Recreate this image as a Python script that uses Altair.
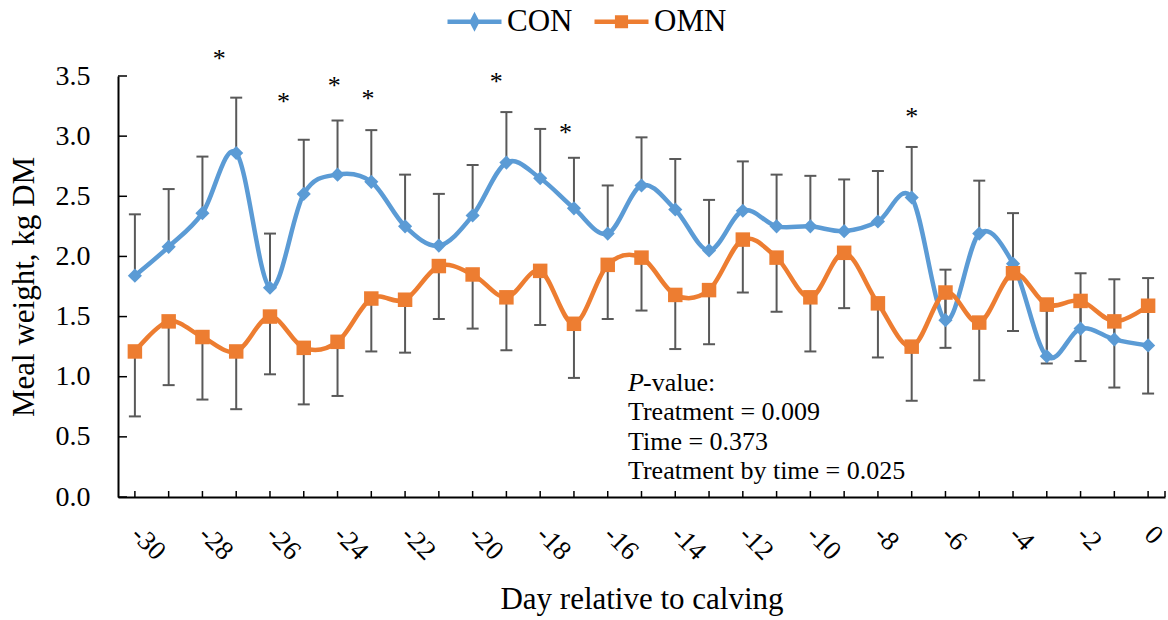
import altair as alt
import pandas as pd

# ---------------- data ----------------
days = list(range(-30, 1))
con_mean = [1.84, 2.08, 2.36, 2.86, 1.74, 2.52, 2.68, 2.62, 2.25, 2.09, 2.34,
            2.78, 2.65, 2.40, 2.19, 2.59, 2.39, 2.05, 2.38, 2.25, 2.25, 2.21,
            2.29, 2.49, 1.47, 2.19, 1.94, 1.17, 1.40, 1.31, 1.26]
con_upper = [2.35, 2.56, 2.83, 3.32, 2.19, 2.97, 3.13, 3.05, 2.68, 2.52, 2.76,
             3.20, 3.06, 2.82, 2.59, 2.99, 2.81, 2.47, 2.79, 2.68, 2.67, 2.64,
             2.71, 2.91, 1.89, 2.63, 2.36, 1.55, 1.86, 1.81, 1.82]
omn_mean = [1.21, 1.46, 1.33, 1.21, 1.50, 1.24, 1.29, 1.65, 1.64, 1.92, 1.85,
            1.66, 1.88, 1.44, 1.93, 1.99, 1.68, 1.72, 2.14, 1.99, 1.66, 2.03,
            1.61, 1.25, 1.70, 1.45, 1.86, 1.60, 1.63, 1.46, 1.59]
omn_lower = [0.67, 0.93, 0.81, 0.73, 1.02, 0.77, 0.84, 1.21, 1.20, 1.48, 1.40,
             1.22, 1.43, 0.99, 1.48, 1.55, 1.23, 1.27, 1.70, 1.54, 1.21, 1.57,
             1.16, 0.80, 1.24, 0.97, 1.38, 1.11, 1.13, 0.91, 0.86]
series_names = ["CON", "OMN"]
series_colors = ["#5B9BD5", "#ED7D31"]

star_days = [-27.5, -25.6, -24.1, -23.1, -19.3, -17.25, -7.0]
star_vals = [3.69, 3.33, 3.47, 3.36, 3.50, 3.08, 3.21]

y_ticks = [0.0, 0.5, 1.0, 1.5, 2.0, 2.5, 3.0, 3.5]
x_label_days = list(range(-30, 1, 2))
x_tick_days = days + [0.5]

pvalue_head = ["P", "-value:"]
pvalue_lines = ["Treatment = 0.009", "Time = 0.373", "Treatment by time = 0.025"]
pvalue_day = -15.4
pvalue_head_val = 0.885
pvalue_lines_val = 0.64

# ---------------- tables ----------------
con_df = pd.DataFrame({"day": days, "val": con_mean, "bound": con_upper, "series": "CON"})
omn_df = pd.DataFrame({"day": days, "val": omn_mean, "bound": omn_lower, "series": "OMN"})
all_df = pd.concat([con_df, omn_df], ignore_index=True)
star_df = pd.DataFrame({"day": star_days, "val": star_vals, "t": "*"})
ytick_df = pd.DataFrame({"val": y_ticks})
xtick_df = pd.DataFrame({"day": x_tick_days})
head_df = pd.DataFrame({"day": [pvalue_day], "val": [pvalue_head_val],
                        "a": [pvalue_head[0]], "b": [pvalue_head[1]]})
lines_df = pd.DataFrame({"day": [pvalue_day], "val": [pvalue_lines_val],
                         "t": ["\n".join(pvalue_lines)]})

FONT = "Liberation Serif"
BLUE, ORANGE = series_colors
GREY = "#595959"

xs = alt.Scale(domain=[-30.5, 0.5], nice=False, zero=False)
ys = alt.Scale(domain=[0, 3.5], nice=False, zero=True)

xaxis = alt.Axis(values=x_label_days, labelExpr="'' + datum.value", labelAngle=45,
                 labelAlign="left", labelBaseline="middle", labelPadding=33,
                 labelFont=FONT, labelFontSize=27, labelColor="black",
                 labelOverlap=False, labelFlush=False, labelBound=False,
                 ticks=False, tickSize=0, grid=False,
                 domainColor="black", domainWidth=2,
                 title="Day relative to calving", titleFont=FONT, titleFontSize=31,
                 titleFontWeight="normal", titleColor="black",
                 titleX=523.5, titleY=111, titleBaseline="alphabetic", titleAlign="center")
yaxis = alt.Axis(values=y_ticks, format=".1f", labelFont=FONT, labelFontSize=28,
                 labelColor="black", labelPadding=28, labelOverlap=False, labelFlush=False,
                 ticks=False, tickSize=0, grid=False,
                 domainColor="black", domainWidth=2,
                 title="Meal weight, kg DM", titleFont=FONT, titleFontSize=31,
                 titleFontWeight="normal", titleColor="black",
                 titleX=-85, titleY=210.5, titleAngle=-90,
                 titleBaseline="alphabetic", titleAlign="center")


def X():
    return alt.X("day:Q", scale=xs, axis=xaxis)


def Y():
    return alt.Y("val:Q", scale=ys, axis=yaxis)


# error bars
err_rule = alt.Chart(all_df).mark_rule(color=GREY, strokeWidth=2).encode(
    x=X(), y=Y(), y2=alt.Y2("bound:Q"))
err_cap = alt.Chart(all_df).mark_tick(color=GREY, orient="horizontal", size=12,
                                      thickness=2, opacity=1).encode(
    x=X(), y=alt.Y("bound:Q", scale=ys, axis=yaxis))

# series
con_line = alt.Chart(con_df).mark_line(color=BLUE, strokeWidth=4.5, interpolate="cardinal",
                                       strokeCap="round", strokeJoin="round").encode(x=X(), y=Y())
con_pts = alt.Chart(con_df).mark_point(shape="diamond", filled=True, size=200, color=BLUE,
                                       opacity=1).encode(x=X(), y=Y())
omn_line = alt.Chart(omn_df).mark_line(color=ORANGE, strokeWidth=4.5, interpolate="cardinal",
                                       strokeCap="round", strokeJoin="round").encode(x=X(), y=Y())
omn_pts = alt.Chart(omn_df).mark_point(shape="square", filled=True, size=210, color=ORANGE,
                                       opacity=1).encode(x=X(), y=Y())

# legend (dummy layer: no marks drawn, only the legend)
leg_paths = ["M-1,0H1M-0.1,0L0,-0.19L0.1,0L0,0.19Z",
             "M-1,0H1M-0.16,-0.16H0.16V0.16H-0.16Z"]
legend = alt.Legend(title=None, orient="none", legendX=327, legendY=-84,
                    direction="horizontal", labelFont=FONT, labelFontSize=31,
                    labelColor="black", symbolSize=2916, symbolStrokeWidth=4.5,
                    labelOffset=3, columnPadding=12, padding=0, labelLimit=0)
leg_layer = alt.Chart(all_df).transform_filter("false").mark_point(
    filled=True, strokeWidth=4.5, opacity=1).encode(
    x=X(), y=Y(),
    fill=alt.Fill("series:N", scale=alt.Scale(domain=series_names, range=series_colors), legend=legend),
    stroke=alt.Stroke("series:N", scale=alt.Scale(domain=series_names, range=series_colors), legend=legend),
    shape=alt.Shape("series:N", scale=alt.Scale(domain=series_names, range=leg_paths), legend=legend),
)

# inward axis ticks
ytick_layer = alt.Chart(ytick_df).mark_rule(color="black", strokeWidth=1.5).encode(
    y=Y(), x=alt.value(0), x2=alt.value(9))
xtick_layer = alt.Chart(xtick_df).mark_rule(color="black", strokeWidth=1.5).encode(
    x=X(), y=alt.value(421), y2=alt.value(415))

# asterisks
stars = alt.Chart(star_df).mark_text(font=FONT, fontSize=26, color="black",
                                     baseline="middle", dy=6).encode(
    x=X(), y=Y(), text="t:N")

# P-value annotation
head_a = alt.Chart(head_df).mark_text(font=FONT, fontSize=26, color="black", align="left",
                                      baseline="alphabetic", fontStyle="italic").encode(
    x=X(), y=Y(), text="a:N")
head_b = alt.Chart(head_df).mark_text(font=FONT, fontSize=26, color="black", align="left",
                                      baseline="alphabetic", dx=15).encode(
    x=X(), y=Y(), text="b:N")
body = alt.Chart(lines_df).mark_text(font=FONT, fontSize=26, color="black", align="left",
                                     baseline="alphabetic", lineBreak="\n",
                                     lineHeight=29.5).encode(
    x=X(), y=Y(), text="t:N")

chart = alt.layer(
    err_rule, err_cap, con_line, con_pts, omn_line, omn_pts, leg_layer,
    ytick_layer, xtick_layer, stars, head_a, head_b, body
).properties(
    width=1047, height=421,
    padding={"left": 118, "top": 76, "right": 3, "bottom": 123},
    autosize="none",
    background="white",
).configure_view(stroke=None)

chart.save("out.html", embed_options={"renderer": "svg", "actions": False})
